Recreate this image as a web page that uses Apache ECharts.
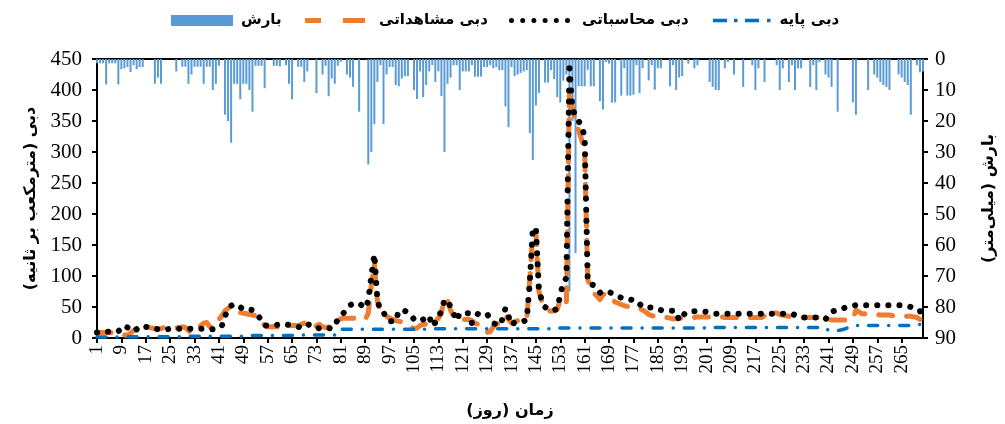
<!DOCTYPE html>
<html><head><meta charset="utf-8">
<script src="https://cdn.jsdelivr.net/npm/echarts@6/dist/echarts.min.js"></script>
<style>html,body{margin:0;padding:0;background:#fff}#c{width:1005px;height:424px}</style>
</head><body><div id="c"></div>
<script>
// x categories: day numbers 1..272
const days = [];
for (let d = 1; d <= 272; d++) days.push(String(d));

// Precipitation (mm), right inverted axis
const precip = [
  1.4,1.4,1.4,8.2,1.4,1.4,1.4,8.2,
  3.3,3,2.6,4.2,2,3.3,2.6,2.6,
  0,0,0,8,6,8,0,0,
  0,0,4,0,2.5,2.5,8,5,
  2.5,2.5,2.5,8,2.5,2.5,10,8,
  2.2,0,18,20,27,8,8,13,
  8,8,10,17,2.2,2.2,2.2,9.4,
  0,0,2.2,2.2,2.4,0,2,8,
  13,0,2.5,2.5,7.4,4,0,0,
  11,0,5,2.2,12,6.3,8,2.2,
  0.9,0,5,6,9,0,17,0,
  0,34,30,21,7.4,2,21,5,
  2.6,2.6,8.4,8.8,6.3,5.5,5.5,0,
  10,12.9,4,12.3,8.4,4,2,7.4,
  4,12,30,8,6,2,2,10,
  4,4,4,2,5.7,5.7,5.7,2.6,
  2.6,2,3,2.6,3.6,3.6,15.3,22,
  2.6,5.5,5,4.5,4,3.6,23.9,32.6,
  15,11,0,7.6,7.6,3.6,6.5,12.3,
  14,7,5,75,20,62.6,8.8,8.8,
  8.8,3.5,8.8,8.8,0,13.6,16.3,1,
  1.5,14.1,14,0,11.8,3,11.8,11.8,
  11.5,2,11,3,0,6.9,2,9.9,
  3,3,0,0,8.8,2,10,6,
  5.5,0,1.5,0,3,2,0,0,
  0,7.4,9,10,10,0,3,1,
  0,5,0,0,9,0,0,2,
  10,3,0,7.4,0,0,0,2,
  10,3,0,7.4,2,10,3,3,
  0,0,9,2,10,1,0,5,
  6,9,0,17,0,0,0,0,
  14,18,0,0,0,10,0,5,
  6,7.4,8.4,9,10,0,0,5,
  6,7.4,8.4,18,0,2,4.3,4
];

// Observed discharge (m3/s)
const observed = [
  9,9,9,9,9,8,8,8,
  7,5,4,8,12,15,17,19,
  18,17,16,15,15,15,17,18,
  17,16,16,17,18,17,12,8,
  12,16,20,24,25,18,16,20,
  30,36,44,48,50,48,44,41,
  40,39,38,37,36,34,25,20,
  18,18,18,18,17,17,18,19,
  20,20,20,22,24,20,16,16,
  20,22,18,17,18,19,22,28,
  31,32,32,32,32,31,31,30,
  30,40,85,120,60,42,38,35,
  32,30,28,27,26,25,22,18,
  15,16,20,22,22,20,22,27,
  32,40,64,60,45,35,30,30,
  30,30,30,28,24,22,15,10,
  9,10,18,22,24,26,36,30,
  24,26,28,28,27,30,95,170,
  170,75,58,50,45,43,44,46,
  62,60,55,400,370,350,335,320,
  300,95,80,72,68,62,70,72,
  66,62,58,56,54,52,51,51,
  50,49,48,45,42,38,36,35,
  34,34,33,33,32,31,31,31,
  33,33,33,33,33,34,34,34,
  34,34,34,34,34,34,33,33,
  33,33,33,33,33,33,33,33,
  33,33,33,36,40,44,42,40,
  38,37,36,35,34,34,33,33,
  33,33,33,33,33,33,33,31,
  30,29,29,29,29,29,29,29,
  30,45,42,39,39,39,39,39,
  38,37,37,37,37,36,35,35,
  35,35,35,35,34,33,30,26
];

// Calculated discharge (m3/s)
const calculated = [
  9,9,9,10,10,9,10,11,
  15,20,17,12,11,14,19,19,
  18,17,16,15,14,13,13,14,
  15,15,15,15,15,15,15,15,
  15,15,15,15,14,14,14,15,
  16,20,35,48,52,55,53,50,
  46,46,46,45,40,35,28,20,
  20,20,20,21,22,23,22,21,
  20,19,18,17,20,23,20,17,
  15,16,17,17,16,15,20,30,
  35,41,48,53,55,56,56,52,
  48,60,100,135,60,45,42,30,
  27,27,27,44,44,44,40,37,
  30,27,28,30,33,36,19,25,
  32,45,61,61,50,40,28,40,
  40,40,40,24,32,39,39,39,
  39,30,24,22,20,30,48,35,
  21,25,27,27,27,30,90,177,
  177,76,60,50,46,44,45,47,
  70,89,97,435,368,360,350,341,
  325,92,87,85,78,73,75,76,
  74,72,69,67,65,63,62,62,
  61,61,55,50,49,49,49,49,
  47,45,44,44,44,44,43,28,
  35,40,43,43,43,43,43,43,
  42,41,40,39,39,39,39,39,
  39,39,39,39,39,39,39,39,
  39,39,39,39,39,39,39,39,
  39,39,39,39,39,37,35,33,
  33,33,33,33,33,32,31,30,
  38,42,44,46,47,48,50,51,
  52,53,53,53,53,53,53,53,
  53,53,53,53,53,53,53,53,
  53,53,52,50,47,46,44,26
];

// Base flow (m3/s)
const baseflow = [
  1.5,1.5,1.5,1.5,1.5,1.5,1.5,1.5,
  1.5,1.5,2,2,2,2,2,2,
  2,2,2,2,2,2,2,2,
  2,2,2,2,2,2,3,3,
  3,3,3,3,3,3,3,3,
  3,3,3,3,3,3,3,3,
  3,3,4,4,4,4,4,4,
  4,4,4,4,4,4,4,4,
  4,5,5,5,5,5,5,5,
  5,5,5,5,5,5,5,5,
  14,14,14,14,14,14,14,14,
  14,14,14,14,14,14,14,14,
  14,14,14,14,14,14,14,14,
  14,14,14,14,14,14,15,15,
  15,15,15,15,15,15,15,15,
  15,15,15,15,15,15,15,15,
  15,15,15,15,15,15,15,15,
  15,15,15,15,15,15,15,15,
  15,15,15,15,15,15,16,16,
  16,16,16,16,16,16,16,16,
  16,16,16,16,16,16,16,16,
  16,16,16,16,16,16,16,16,
  16,16,16,16,16,16,16,16,
  16,16,16,16,16,16,16,16,
  16,16,16,16,16,16,16,16,
  17,17,17,17,17,17,17,17,
  17,17,17,17,17,17,17,17,
  17,17,17,17,17,17,17,17,
  17,17,17,17,17,17,17,17,
  17,17,17,17,17,17,17,17,
  12,12,12,12,13,14,16,18,
  20,20,20,20,20,20,20,20,
  20,20,20,20,20,20,20,20,
  20,20,20,20,20,21,22,23
];

const seriesNames = ['بارش', 'دبی مشاهداتی', 'دبی محاسباتی', 'دبی پایه'];
const leftTitle = 'دبی (مترمکعب بر ثانیه)';
const rightTitle = 'بارش (میلی‌متر)';
const xTitle = 'زمان (روز)';

const RLM = '\u200F';
const rtl = s => RLM + s + RLM;
const serif = 'Liberation Serif';
const fa = 'DejaVu Sans';

// legend icon shapes (style only)
const dot = x => 'M' + x + ',2.5a2.5,2.5 0 1,0 5,0a2.5,2.5 0 1,0 -5,0z';
const iconDots = 'path://' + [0, 11.2, 22.4, 33.6, 44.8, 56].map(dot).join(' ');
const iconDash = 'path://M0,0h16v5h-16z M38,0h22v5h-22z';
const iconDashDot = 'path://M0,0h14v3.5h-14z M21,0h3.5v3.5h-3.5z M32,0h14v3.5h-14z M54,0h3.5v3.5h-3.5z';

function mkLegend(left, w, h, pad, item) {
  return {
    left: left, top: 8, itemWidth: w, itemHeight: h, itemGap: 0,
    textStyle: {fontFamily: fa, fontWeight: 'bold', fontSize: 15, color: '#000', padding: [0, 0, 0, pad]},
    formatter: n => rtl(n), data: [item]
  };
}

const chart = echarts.init(document.getElementById('c'), null, {renderer: 'canvas'});
chart.setOption({
  animation: false,
  backgroundColor: '#fff',
  grid: {left: 97, right: 77, top: 59, bottom: 83, show: true, borderColor: '#000', borderWidth: 2},
  legend: [
    mkLegend(166, 62, 11, 3, {name: seriesNames[0], icon: 'rect', itemStyle: {color: '#5B9BD5', borderWidth: 0}}),
    mkLegend(300, 60, 5, 9, {name: seriesNames[1], icon: iconDash, itemStyle: {color: '#ED7D31', borderWidth: 0}}),
    mkLegend(504, 61, 5, 7, {name: seriesNames[2], icon: iconDots, itemStyle: {color: '#000', borderWidth: 0}}),
    mkLegend(708, 57.5, 3.5, 4, {name: seriesNames[3], icon: iconDashDot, itemStyle: {color: '#0070C0', borderWidth: 0}})
  ],
  xAxis: {
    type: 'category', data: days, boundaryGap: false,
    name: rtl(xTitle), nameLocation: 'middle', nameGap: 65,
    nameTextStyle: {fontFamily: fa, fontWeight: 'bold', fontSize: 16, color: '#000'},
    axisLine: {lineStyle: {color: '#000', width: 2}},
    axisTick: {show: true, interval: 7, length: 5, lineStyle: {color: '#000', width: 2}},
    axisLabel: {interval: 7, rotate: 90, margin: 7, fontFamily: serif, fontSize: 19, color: '#000'}
  },
  yAxis: [
    {
      type: 'value', min: 0, max: 450, interval: 50, position: 'left',
      name: rtl(leftTitle), nameLocation: 'middle', nameGap: 58, nameRotate: 90,
      nameTextStyle: {fontFamily: fa, fontWeight: 'bold', fontSize: 16, color: '#000'},
      axisLine: {show: true, lineStyle: {color: '#000', width: 2}},
      axisTick: {show: true, length: 5, lineStyle: {color: '#000', width: 2}},
      axisLabel: {margin: 15, fontFamily: serif, fontSize: 21, color: '#000'},
      splitLine: {show: false}
    },
    {
      type: 'value', min: 0, max: 90, interval: 10, position: 'right', inverse: true,
      name: rtl(rightTitle), nameLocation: 'middle', nameGap: 58, nameRotate: 90,
      nameTextStyle: {fontFamily: fa, fontWeight: 'bold', fontSize: 16, color: '#000'},
      axisLine: {show: true, lineStyle: {color: '#000', width: 2}},
      axisTick: {show: true, length: 5, lineStyle: {color: '#000', width: 2}},
      axisLabel: {margin: 12, fontFamily: serif, fontSize: 21, color: '#000'},
      splitLine: {show: false}
    }
  ],
  series: [
    {
      name: seriesNames[0], type: 'bar', yAxisIndex: 1, data: precip,
      barWidth: 2, itemStyle: {color: '#5B9BD5'}
    },
    {
      name: seriesNames[1], type: 'line', data: observed, symbol: 'none',
      lineStyle: {color: '#ED7D31', width: 5, type: [14, 14], cap: 'round', join: 'round'},
      itemStyle: {color: '#ED7D31'}
    },
    {
      name: seriesNames[2], type: 'line', data: calculated, symbol: 'none',
      lineStyle: {color: '#000', width: 6, type: [0.1, 11], cap: 'round', join: 'round'},
      itemStyle: {color: '#000'}
    },
    {
      name: seriesNames[3], type: 'line', data: baseflow, symbol: 'none',
      lineStyle: {color: '#0070C0', width: 3.5, type: [9, 11, 0.1, 11], cap: 'round'},
      itemStyle: {color: '#0070C0'}
    }
  ]
});
</script>
</body></html>
